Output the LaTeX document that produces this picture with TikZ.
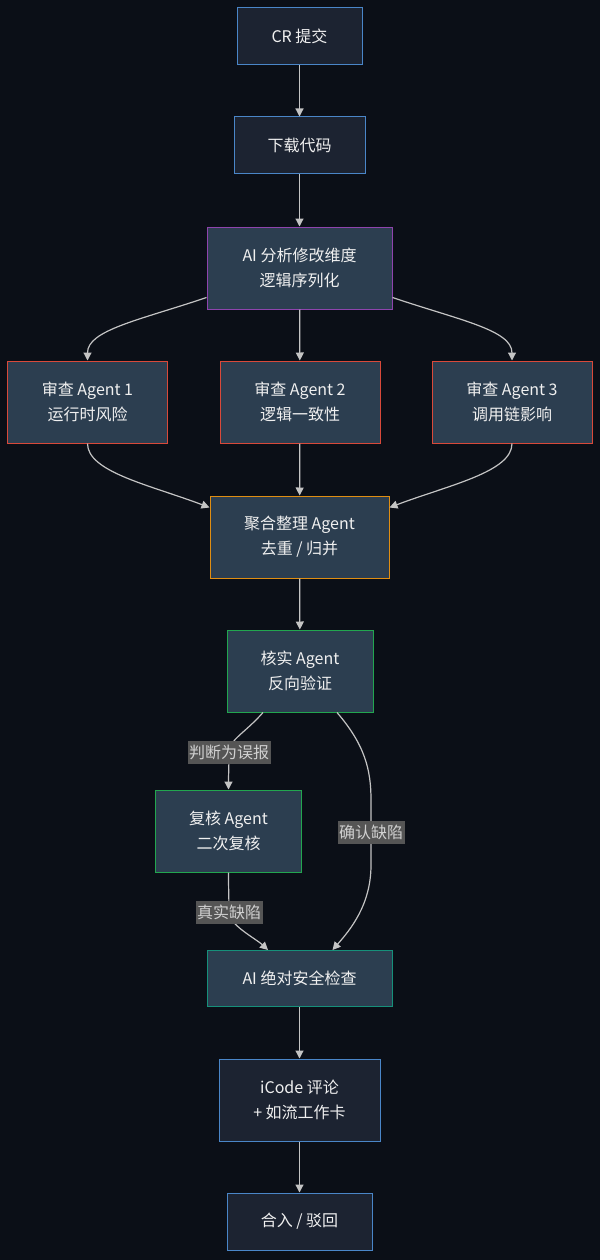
\documentclass[tikz,border=0pt]{standalone}
\usepackage{fontspec}
\setmainfont{Noto Sans CJK SC}
\usepackage{tikz}
\usetikzlibrary{arrows.meta}
\definecolor{bgcol}{HTML}{0B0F17}
\definecolor{darkfill}{HTML}{1C2331}
\definecolor{midfill}{HTML}{2C3E50}
\definecolor{bluecol}{HTML}{4A86C8}
\definecolor{purplecol}{HTML}{8E44AD}
\definecolor{redcol}{HTML}{D9493A}
\definecolor{orangecol}{HTML}{E08E12}
\definecolor{greencol}{HTML}{22A64F}
\definecolor{tealcol}{HTML}{16907A}
\definecolor{linecol}{HTML}{C4C4C4}
\definecolor{lblbg}{HTML}{555555}
\definecolor{lbltxt}{HTML}{D0D0D0}

\begin{document}
\begin{tikzpicture}[x=1pt,y=-1pt,->,>={Triangle[length=8pt,width=8pt]}, line width=1.2pt, draw=linecol, color=linecol,
  box/.style={rectangle, draw, line width=1pt, fill=midfill, text=white!94!black, align=center, inner sep=0pt, font=\fontsize{16}{25}\selectfont},
  lbl/.style={fill=lblbg, text=lbltxt, inner xsep=1.5pt, inner ysep=0pt, minimum height=23pt, font=\fontsize{16}{20}\selectfont}]
\fill[bgcol,-] (0,0) rectangle (600,1260);
\node[box, draw=bluecol, fill=darkfill, minimum width=125, minimum height=57] at (299.5,36.5) (cr) {CR 提交};
\node[box, draw=bluecol, fill=darkfill, minimum width=131, minimum height=57] at (299.5,145.5) (dl) {下载代码};
\node[box, draw=purplecol, minimum width=185, minimum height=82] at (299.5,268) (ai) {AI 分析修改维度\\逻辑序列化};
\node[box, draw=redcol, minimum width=160, minimum height=82] at (87.5,402) (a1) {审查 Agent 1\\运行时风险};
\node[box, draw=redcol, minimum width=160, minimum height=82] at (300,402) (a2) {审查 Agent 2\\逻辑一致性};
\node[box, draw=redcol, minimum width=160, minimum height=82] at (512,402) (a3) {审查 Agent 3\\调用链影响};
\node[box, draw=orangecol, minimum width=179, minimum height=82] at (299.5,537) (agg) {聚合整理 Agent\\去重 / 归并};
\node[box, draw=greencol, minimum width=146, minimum height=82] at (300,671) (vf) {核实 Agent\\反向验证};
\node[box, draw=greencol, minimum width=146, minimum height=82] at (228.5,831) (rc) {复核 Agent\\二次复核};
\node[box, draw=tealcol, minimum width=185, minimum height=56] at (299.5,978.5) (sf) {AI 绝对安全检查};
\node[box, draw=bluecol, fill=darkfill, minimum width=161, minimum height=82] at (299.5,1100) (ic) {iCode 评论\\+ 如流工作卡};
\node[box, draw=bluecol, fill=darkfill, minimum width=145, minimum height=57] at (299.5,1221.5) (mg) {合入 / 驳回};
\draw (cr) -- (dl);
\draw (dl) -- (ai);
\draw (ai) -- (a2);
\draw ([yshift=12pt]ai.south west) .. controls (140,320) and (87.5,330) .. (a1.north);
\draw ([yshift=12pt]ai.south east) .. controls (459,320) and (512,330) .. (a3.north);
\draw (a2) -- (agg);
\draw (a1.south) .. controls (87.5,472) and (150,485) .. ([yshift=-12pt]agg.north west);
\draw (a3.south) .. controls (512,472) and (449,485) .. ([yshift=-12pt]agg.north east);
\draw (agg) -- (vf);
\draw ([xshift=-37pt]vf.south) .. controls (245,733) and (229,740) .. (229,752) node[lbl]{判断为误报} .. controls (229,765) and (228.5,775) .. (rc.north);
\draw ([xshift=37pt]vf.south) .. controls (365,745) and (371,770) .. (371,800) -- (371,832) node[lbl]{确认缺陷} -- (371,865) .. controls (371,905) and (350,930) .. ([xshift=33pt]sf.north);
\draw (rc.south) .. controls (228.5,890) and (229,900) .. (229,912) node[lbl]{真实缺陷} .. controls (229,925) and (255,938) .. ([xshift=-31.5pt]sf.north);
\draw (sf) -- (ic);
\draw (ic) -- (mg);
\end{tikzpicture}
\end{document}
